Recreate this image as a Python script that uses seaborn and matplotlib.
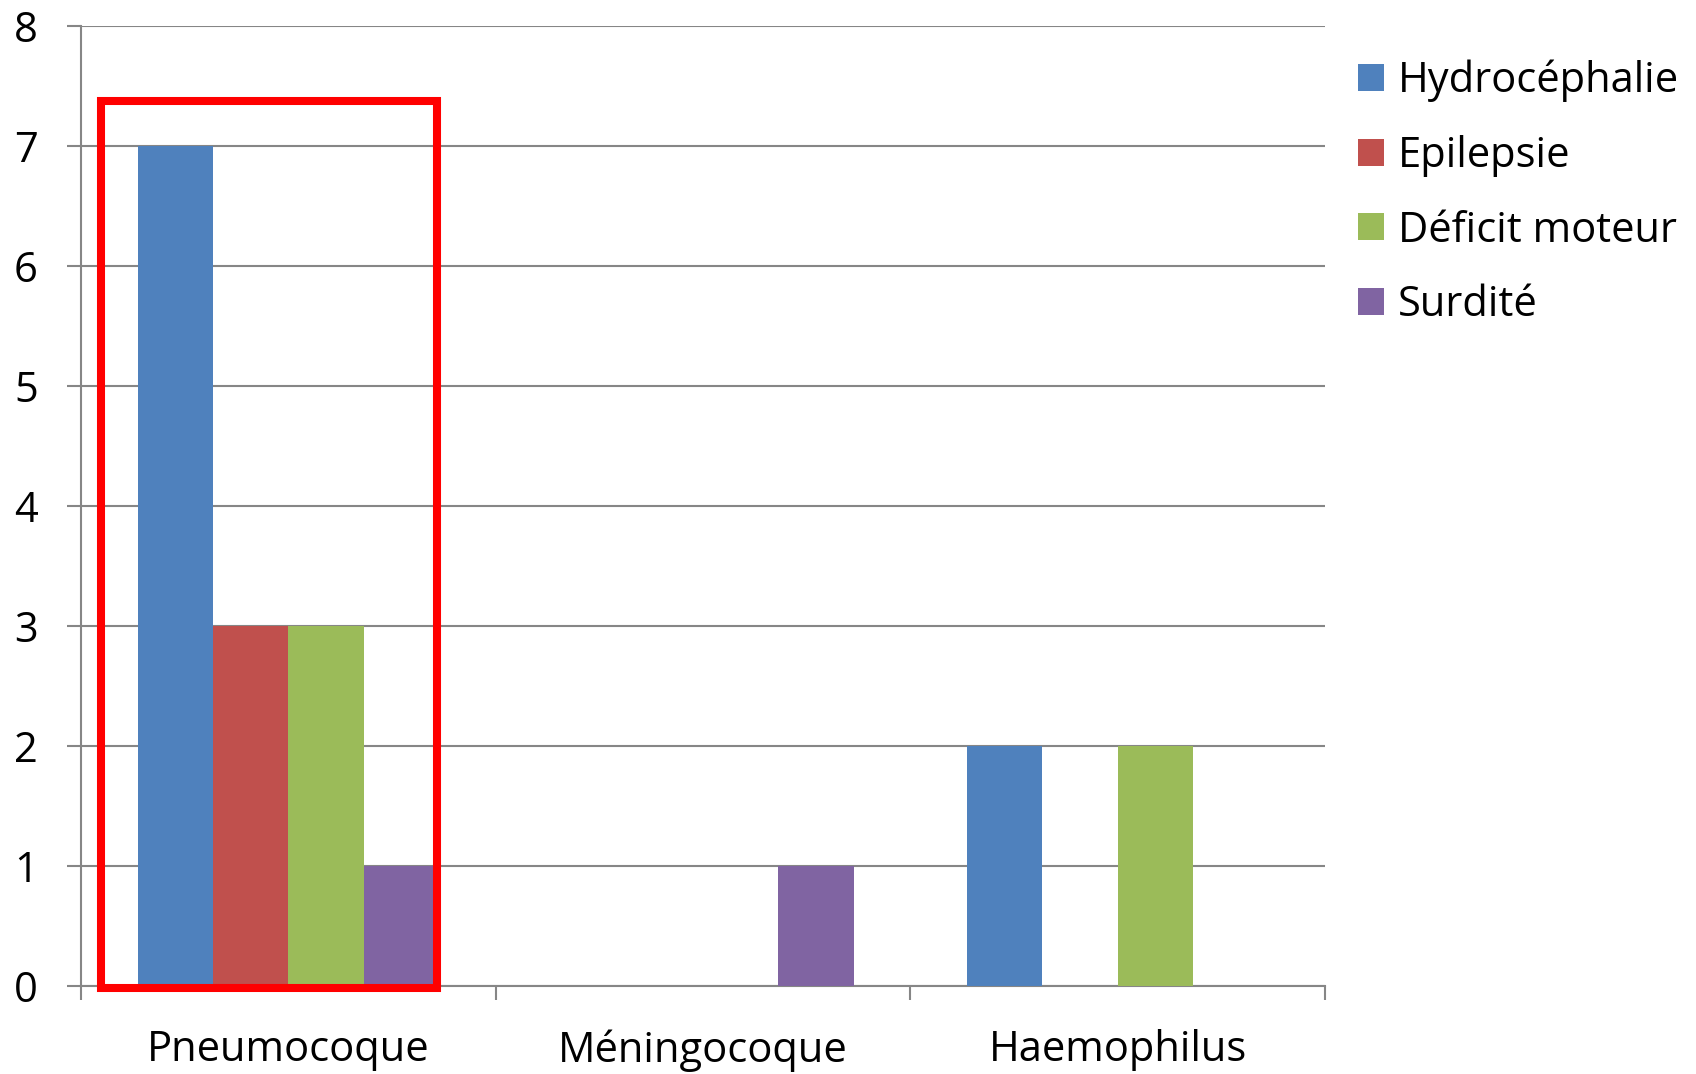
import numpy as np
import matplotlib
matplotlib.use('Agg')
import matplotlib.pyplot as plt
from matplotlib.patches import Rectangle
import pandas as pd
import seaborn as sns

# data
bacteries = ['Pneumocoque', 'Méningocoque', 'Haemophilus']
sequelles = ['Hydrocéphalie', 'Epilepsie', 'Déficit moteur', 'Surdité']
hydrocephalie = [7, 0, 2]
epilepsie = [3, 0, 0]
deficit_moteur = [3, 0, 2]
surdite = [1, 1, 0]
couleurs = ['#4F81BD', '#C0504D', '#9BBB59', '#8064A2']
y_ticks = [0, 1, 2, 3, 4, 5, 6, 7, 8]

# long form table for seaborn
rows = []
for serie, vals in zip(sequelles, [hydrocephalie, epilepsie, deficit_moteur, surdite]):
    for b, v in zip(bacteries, vals):
        rows.append({'Bactérie': b, 'Séquelle': serie, 'Nombre': v})
df = pd.DataFrame(rows)

sns.set_style('white')
plt.rcParams['font.family'] = ['Open Sans', 'DejaVu Sans']
plt.rcParams['text.color'] = 'black'
plt.rcParams['xtick.labelcolor'] = 'black'
plt.rcParams['ytick.labelcolor'] = 'black'

grid_col = '#868686'
fig = plt.figure(figsize=(16.96, 10.74), dpi=100)
ax = fig.add_axes([81/1696, 88/1074, (1325-81)/1696, (986-26)/1074])

sns.barplot(data=df, x='Bactérie', y='Nombre', hue='Séquelle', order=bacteries,
            hue_order=sequelles, palette=couleurs, width=0.727, saturation=1,
            linewidth=0, ax=ax, zorder=3)

ax.set_xlim(-0.5, 2.5)
ax.set_ylim(0, 8)
ax.set_yticks(y_ticks)
ax.yaxis.grid(True, color=grid_col, linewidth=1.5, zorder=0)
ax.set_axisbelow(True)
ax.set_xlabel('')
ax.set_ylabel('')

for s in ['top', 'right']:
    ax.spines[s].set_visible(False)
for s in ['left', 'bottom']:
    ax.spines[s].set_color(grid_col)
    ax.spines[s].set_linewidth(1.5)

ax.tick_params(axis='y', length=10, width=1.5, color=grid_col, pad=21, labelsize=30,
               direction='out', left=True, labelcolor='black')
ax.set_xticks([0, 1, 2])
ax.set_xticklabels(bacteries)
ax.set_xticks([-0.5, 0.5, 1.5, 2.5], minor=True)
ax.tick_params(axis='x', which='major', length=0, pad=31, labelsize=30, labelcolor='black')
ax.tick_params(axis='x', which='minor', length=10, width=1.5, color=grid_col, direction='out', bottom=True)

# red highlight box round the first group
ax.add_patch(Rectangle((-0.452, -0.015), 0.811, 7.39, fill=False, edgecolor='#FF0000',
                       linewidth=5.8, clip_on=False, zorder=5))

handles, labels = ax.get_legend_handles_labels()
ax.legend(handles, labels, loc='upper left', bbox_to_anchor=(1358/1696, 1 - 60/1074),
          bbox_transform=fig.transFigure, frameon=False, fontsize=30,
          handlelength=0.62, handleheight=0.62, handletextpad=0.34,
          labelspacing=0.78, borderpad=0, borderaxespad=0)

fig.savefig('out.png', dpi=100)
